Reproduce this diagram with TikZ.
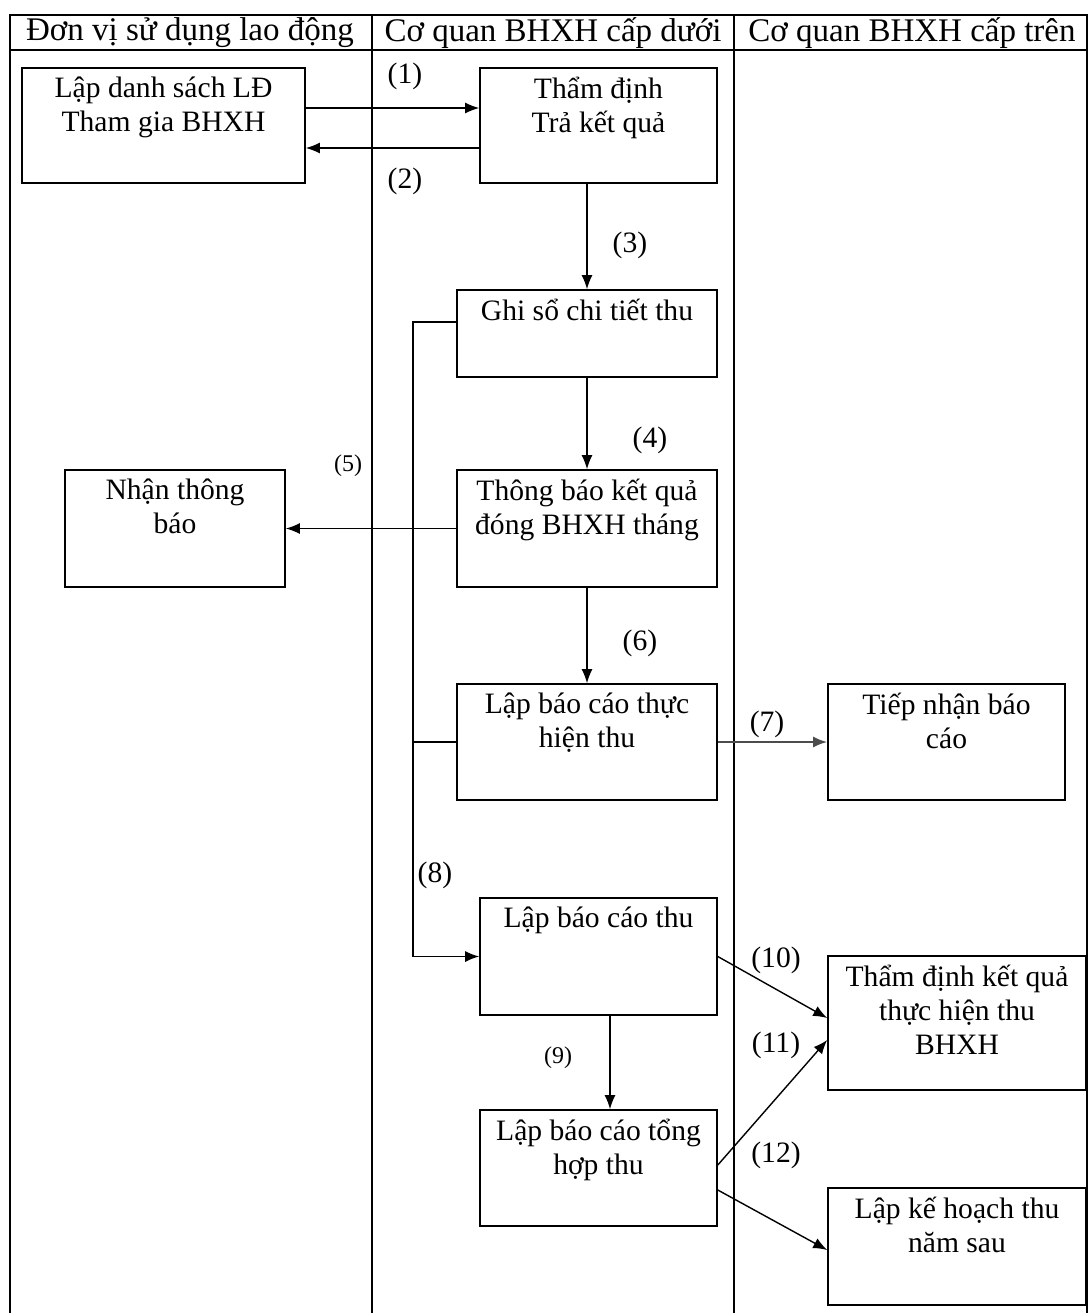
\documentclass[tikz,border=0pt]{standalone}
\usepackage{fontspec}
\setmainfont{Liberation Serif}
\usetikzlibrary{arrows.meta,positioning}
\newcommand{\Task}[5]% pos, name, width, height, text
{\node[draw,line width=0.8pt,minimum width=#3*0.5pt,minimum height=#4*0.5pt,inner sep=0] (#2) at (#1) {};
  \node[anchor=north,align=center,inner sep=0] (#2-text) at ([yshift=-4.5pt]#2.north) {#5};
}
\newcommand{\Step}[3]% pos, name, text
{\node[inner sep=0] (#2) at (#1) {#3};}

\begin{document}
\begin{tikzpicture}[x=0.5pt,y=-0.5pt,line width=0.7pt,>={Latex[length=7pt,width=5.5pt]},
    font=\fontsize{14.8}{17}\selectfont]
  \useasboundingbox (0,0) rectangle (1089,1313);
  % lanes
  \draw (10,1313) -- (10,15) -- (1087,15) -- (1087,1313);
  \draw (10,50) -- (1087,50);
  \draw (372,15) -- (372,1313);
  \draw (734,15) -- (734,1313);
  \begin{scope}[font=\fontsize{16.5}{19}\selectfont]
    \Step{190,33}{unit}{Đơn vị sử dụng lao động}
    \Step{553,33}{lower}{Cơ quan BHXH cấp dưới}
    \Step{912,33}{upper}{Cơ quan BHXH cấp trên}
  \end{scope}
  % boxes
  \Task{163.5,125.5}{list}{283}{115}{Lập danh sách LĐ\\Tham gia BHXH}
  \Task{598.5,125.5}{check}{237}{115}{Thẩm định\\Trả kết quả}
  \Task{587,333.5}{ledger}{260}{87}{Ghi sổ chi tiết thu}
  \Task{587,528.5}{notice}{260}{117}{Thông báo kết quả\\đóng BHXH tháng}
  \Task{175,528.5}{receive}{220}{117}{Nhận thông\\báo}
  \Task{587,742}{report}{260}{116}{Lập báo cáo thực\\hiện thu}
  \Task{946.5,742}{accept}{237}{116}{Tiếp nhận báo\\cáo}
  \Task{598.5,956.5}{sum}{237}{117}{Lập báo cáo thu}
  \Task{598.5,1168}{total}{237}{116}{Lập báo cáo tổng\\hợp thu}
  \Task{957,1023}{verify}{258}{134}{Thẩm định kết quả\\thực hiện thu\\BHXH}
  \Task{957,1246.5}{plan}{258}{117}{Lập kế hoạch thu\\năm sau}
  % labels
  \Step{405,76}{l1}{(1)}
  \Step{405,181}{l2}{(2)}
  \Step{630,245}{l3}{(3)}
  \Step{650,440}{l4}{(4)}
  \Step{348,466}{l5}{\fontsize{12}{14}\selectfont(5)}
  \Step{640,643}{l6}{(6)}
  \Step{767,724}{l7}{(7)}
  \Step{435,875}{l8}{(8)}
  \Step{558,1058}{l9}{\fontsize{12}{14}\selectfont(9)}
  \Step{776,960}{l10}{(10)}
  \Step{776,1045}{l11}{(11)}
  \Step{776,1155}{l12}{(12)}
  % connectors
  \coordinate (bus) at (413,322);
  \draw[->] (list.east |- 0,108) -- (check.west |- 0,108);
  \draw[->] (check.west |- 0,148) -- (list.east |- 0,148);
  \draw[->] (check.south -| ledger.north) -- (ledger.north);
  \draw[->] (ledger.south) -- (notice.north);
  \draw[->] (notice.west) -- (receive.east);
  \draw[->] (notice.south) -- (report.north);
  \draw[->,black!70,line width=1pt] (report.east) -- (accept.west);
  \draw[->] (ledger.west |- bus) -- (bus) |- (sum.west);
  \draw (report.west) -- (report.west -| bus);
  \draw[->] (sum.south -| 610,0) -- (total.north -| 610,0);
  \draw[->] (sum.east) -- (verify.west |- 0,1018);
  \draw[->] (total.east |- 0,1165) -- (verify.west |- 0,1040);
  \draw[->] (total.east |- 0,1190) -- (plan.west |- 0,1250);
\end{tikzpicture}
\end{document}
